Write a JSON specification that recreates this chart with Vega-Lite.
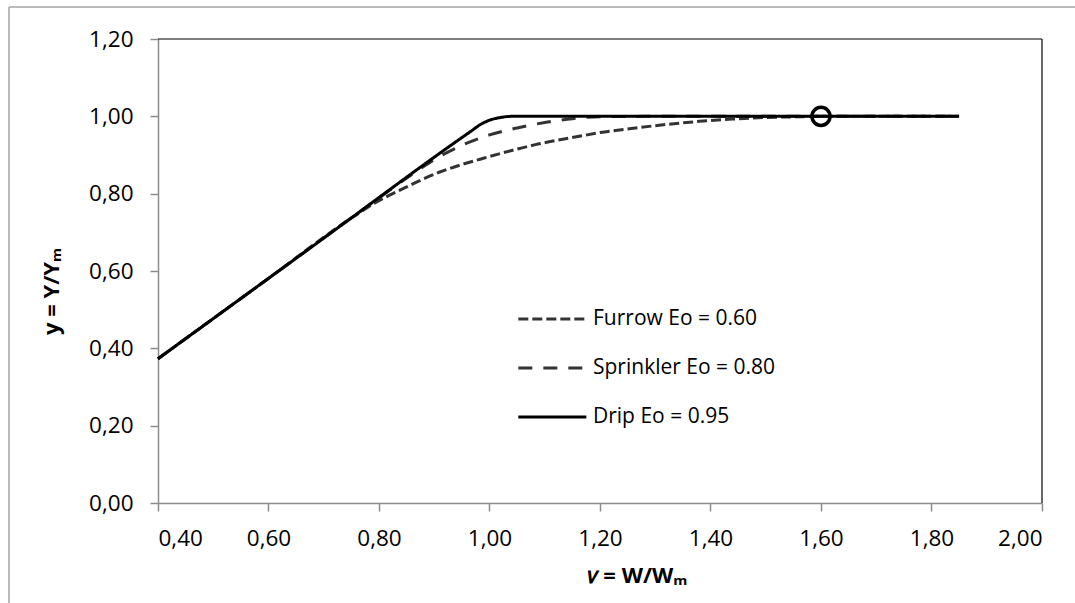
{
  "$schema": "https://vega.github.io/schema/vega-lite/v6.json",
  "width": 884,
  "height": 464,
  "autosize": {"type": "none"},
  "padding": {"left": 158, "top": 39, "right": 33, "bottom": 100},
  "background": "white",
  "config": {
    "view": {"stroke": null},
    "font": "Open Sans",
    "axis": {"grid": false, "domainColor": "#8c8c8c", "tickColor": "#8c8c8c", "domainWidth": 1.5, "tickWidth": 1.5, "tickSize": 8, "labelFont": "Open Sans", "labelFontSize": 22.5, "labelColor": "#000000", "titleFont": "Open Sans", "titleFontSize": 22, "titleFontWeight": "bold", "titleColor": "#000000"}
  },
  "datasets": {
    "curves": [
      {"v": 0.4, "y": 0.373, "series": "Furrow Eo = 0.60"},
      {"v": 0.6, "y": 0.581, "series": "Furrow Eo = 0.60"},
      {"v": 0.75, "y": 0.737, "series": "Furrow Eo = 0.60"},
      {"v": 0.8, "y": 0.782, "series": "Furrow Eo = 0.60"},
      {"v": 0.838, "y": 0.809, "series": "Furrow Eo = 0.60"},
      {"v": 0.874, "y": 0.834, "series": "Furrow Eo = 0.60"},
      {"v": 0.91, "y": 0.856, "series": "Furrow Eo = 0.60"},
      {"v": 0.947, "y": 0.874, "series": "Furrow Eo = 0.60"},
      {"v": 0.983, "y": 0.889, "series": "Furrow Eo = 0.60"},
      {"v": 1.02, "y": 0.904, "series": "Furrow Eo = 0.60"},
      {"v": 1.055, "y": 0.917, "series": "Furrow Eo = 0.60"},
      {"v": 1.09, "y": 0.929, "series": "Furrow Eo = 0.60"},
      {"v": 1.13, "y": 0.94, "series": "Furrow Eo = 0.60"},
      {"v": 1.165, "y": 0.949, "series": "Furrow Eo = 0.60"},
      {"v": 1.2, "y": 0.958, "series": "Furrow Eo = 0.60"},
      {"v": 1.26, "y": 0.969, "series": "Furrow Eo = 0.60"},
      {"v": 1.32, "y": 0.979, "series": "Furrow Eo = 0.60"},
      {"v": 1.38, "y": 0.987, "series": "Furrow Eo = 0.60"},
      {"v": 1.44, "y": 0.993, "series": "Furrow Eo = 0.60"},
      {"v": 1.5, "y": 0.997, "series": "Furrow Eo = 0.60"},
      {"v": 1.56, "y": 0.999, "series": "Furrow Eo = 0.60"},
      {"v": 1.6, "y": 1.0, "series": "Furrow Eo = 0.60"},
      {"v": 1.85, "y": 1.0, "series": "Furrow Eo = 0.60"},
      {"v": 0.4, "y": 0.373, "series": "Sprinkler Eo = 0.80"},
      {"v": 0.6, "y": 0.581, "series": "Sprinkler Eo = 0.80"},
      {"v": 0.8, "y": 0.789, "series": "Sprinkler Eo = 0.80"},
      {"v": 0.87, "y": 0.86, "series": "Sprinkler Eo = 0.80"},
      {"v": 0.9, "y": 0.888, "series": "Sprinkler Eo = 0.80"},
      {"v": 0.95, "y": 0.925, "series": "Sprinkler Eo = 0.80"},
      {"v": 1.0, "y": 0.952, "series": "Sprinkler Eo = 0.80"},
      {"v": 1.05, "y": 0.97, "series": "Sprinkler Eo = 0.80"},
      {"v": 1.1, "y": 0.984, "series": "Sprinkler Eo = 0.80"},
      {"v": 1.15, "y": 0.994, "series": "Sprinkler Eo = 0.80"},
      {"v": 1.2, "y": 0.999, "series": "Sprinkler Eo = 0.80"},
      {"v": 1.3, "y": 1.0, "series": "Sprinkler Eo = 0.80"},
      {"v": 1.85, "y": 1.0, "series": "Sprinkler Eo = 0.80"},
      {"v": 0.4, "y": 0.373, "series": "Drip Eo = 0.95"},
      {"v": 0.7, "y": 0.685, "series": "Drip Eo = 0.95"},
      {"v": 0.94, "y": 0.935, "series": "Drip Eo = 0.95"},
      {"v": 0.965, "y": 0.96, "series": "Drip Eo = 0.95"},
      {"v": 0.985, "y": 0.98, "series": "Drip Eo = 0.95"},
      {"v": 1.0, "y": 0.99, "series": "Drip Eo = 0.95"},
      {"v": 1.02, "y": 0.997, "series": "Drip Eo = 0.95"},
      {"v": 1.04, "y": 1.0, "series": "Drip Eo = 0.95"},
      {"v": 1.85, "y": 1.0, "series": "Drip Eo = 0.95"}
    ],
    "marker": [{"v": 1.6, "y": 1.0}],
    "one": [{}]
  },
  "layer": [
    {
      "data": {"name": "one"},
      "mark": {"type": "rule", "color": "#a6a6a6", "strokeWidth": 1.5},
      "encoding": {"y": {"datum": 1.2826, "type": "quantitative", "scale": {"domain": [0, 1.2], "nice": false, "zero": false}}, "x": {"datum": 0.1303, "type": "quantitative", "scale": {"domain": [0.4, 2.0], "nice": false, "zero": false}}, "x2": {"datum": 2.07}}
    },
    {
      "data": {"name": "one"},
      "mark": {"type": "rule", "color": "#a6a6a6", "strokeWidth": 1.5},
      "encoding": {"x": {"datum": 0.1303, "type": "quantitative"}, "y": {"datum": 1.2826, "type": "quantitative"}, "y2": {"datum": -0.27}}
    },
    {
      "data": {"name": "one"},
      "mark": {"type": "rule", "color": "#000000", "strokeWidth": 1.2},
      "encoding": {"y": {"datum": 1.2, "type": "quantitative"}, "x": {"datum": 0.4, "type": "quantitative"}, "x2": {"datum": 2.0}}
    },
    {
      "data": {"name": "one"},
      "mark": {"type": "rule", "color": "#000000", "strokeWidth": 1.2},
      "encoding": {"x": {"datum": 2.0, "type": "quantitative"}, "y": {"datum": 0, "type": "quantitative"}, "y2": {"datum": 1.2}}
    },
    {
      "data": {"name": "curves"},
      "mark": {"type": "line", "strokeWidth": 3, "interpolate": "monotone"},
      "encoding": {
        "x": {"field": "v", "type": "quantitative", "scale": {"domain": [0.4, 2.0], "nice": false, "zero": false},
          "axis": {"values": [0.4, 0.6, 0.8, 1.0, 1.2, 1.4, 1.6, 1.8, 2.0], "labelExpr": "replace(format(datum.value, '.2f'), '.', ',')", "labelPadding": 16, "title": "𝑣 = W/Wₘ", "titlePadding": 16, "titleX": 479}},
        "y": {"field": "y", "type": "quantitative", "scale": {"domain": [0, 1.2], "nice": false, "zero": false},
          "axis": {"values": [0, 0.2, 0.4, 0.6, 0.8, 1.0, 1.2], "labelExpr": "replace(format(datum.value, '.2f'), '.', ',')", "labelPadding": 17, "title": "y = Y/Yₘ", "titlePadding": 25, "titleY": 252}},
        "color": {"field": "series", "type": "nominal",
          "scale": {"domain": ["Furrow Eo = 0.60", "Sprinkler Eo = 0.80", "Drip Eo = 0.95"], "range": ["#333333", "#333333", "#000000"]},
          "legend": {"title": null, "orient": "none", "legendX": 404, "legendY": 267, "symbolType": "M-5,0H1", "symbolSize": 514, "symbolStrokeWidth": 3, "labelFont": "Open Sans", "labelFontSize": 21, "labelColor": "#000000", "labelOffset": 5, "labelLimit": 400, "rowPadding": 26, "padding": 0}},
        "strokeDash": {"field": "series", "type": "nominal",
          "scale": {"domain": ["Furrow Eo = 0.60", "Sprinkler Eo = 0.80", "Drip Eo = 0.95"], "range": [[10, 4], [14, 11], [1, 0]]},
          "legend": {"title": null, "orient": "none", "legendX": 404, "legendY": 267, "symbolType": "M-5,0H1", "symbolSize": 514, "symbolStrokeWidth": 3, "labelFont": "Open Sans", "labelFontSize": 21, "labelColor": "#000000", "labelOffset": 5, "labelLimit": 400, "rowPadding": 26, "padding": 0}}
      }
    },
    {
      "data": {"name": "marker"},
      "mark": {"type": "point", "shape": "circle", "filled": false, "color": "#000000", "strokeWidth": 3.5, "size": 330, "opacity": 1},
      "encoding": {"x": {"field": "v", "type": "quantitative"}, "y": {"field": "y", "type": "quantitative"}}
    }
  ]
}
